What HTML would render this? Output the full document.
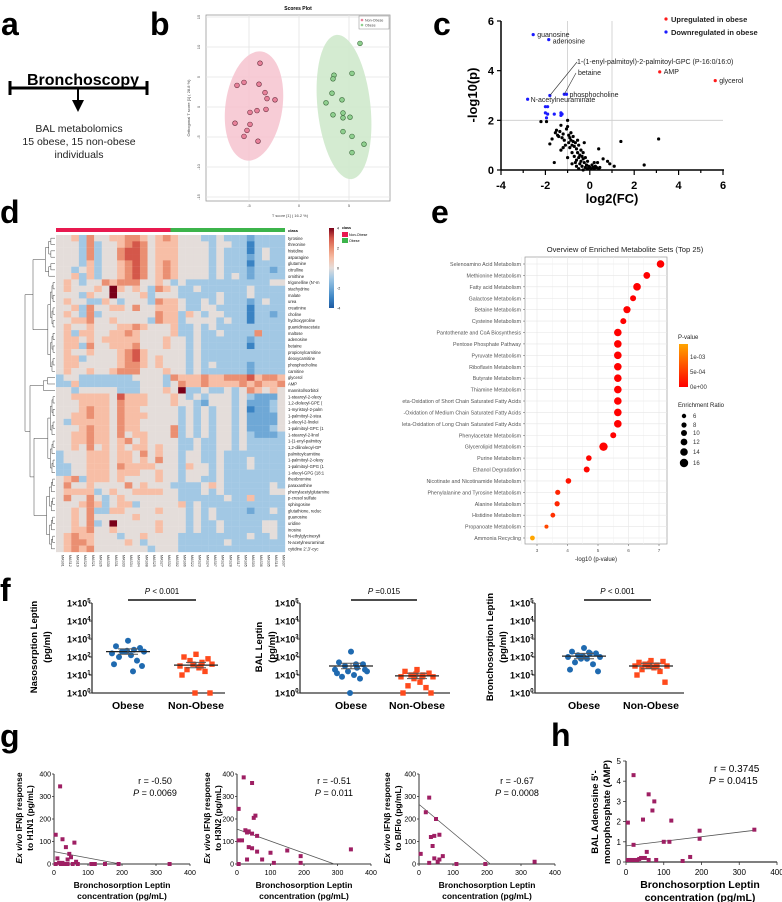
<!DOCTYPE html>
<html><head><meta charset="utf-8"><style>
html,body{margin:0;padding:0;background:#fff}
svg{display:block;font-family:"Liberation Sans",Arial,sans-serif}
</style></head><body>
<svg id="fig" width="782" height="902" viewBox="0 0 782 902" xmlns="http://www.w3.org/2000/svg">
<g font-weight="bold" fill="#000">
<text x="1" y="35" font-size="32">a</text>
<text x="150" y="35" font-size="32">b</text>
<text x="433" y="35" font-size="32">c</text>
<text x="0" y="223" font-size="32">d</text>
<text x="431" y="223" font-size="32">e</text>
<text x="0" y="601" font-size="32">f</text>
<text x="0" y="747" font-size="32">g</text>
<text x="551" y="746" font-size="32">h</text>
</g>
<g>
<text x="83" y="85" font-size="16" font-weight="bold" text-anchor="middle">Bronchoscopy</text>
<line x1="10" y1="88" x2="147" y2="88" stroke="#000" stroke-width="3"/>
<line x1="10" y1="81" x2="10" y2="95" stroke="#000" stroke-width="3"/>
<line x1="147" y1="81" x2="147" y2="95" stroke="#000" stroke-width="3"/>
<line x1="78" y1="88" x2="78" y2="101" stroke="#000" stroke-width="2"/>
<polygon points="72,100 84,100 78,112" fill="#000"/>
<text x="79" y="132" font-size="10.5" text-anchor="middle" fill="#222">BAL metabolomics</text>
<text x="79" y="145" font-size="10.5" text-anchor="middle" fill="#222">15 obese, 15 non-obese</text>
<text x="79" y="158" font-size="10.5" text-anchor="middle" fill="#222">individuals</text>
</g>
<g id="pb"></g>
<g id="pc"></g>
<g id="pd"></g>
<g id="pe"></g>
<g id="pf"></g>
<g id="pg"></g>
<g id="ph"></g>
</svg>
<script>
// ---------- DATA ----------
const bNonObeseX=[-3.9,-6.2,-5.5,-4.0,-3.4,-3.2,-2.4,-4.9,-4.2,-3.3,-6.4,-4.9,-5.2,-5.5,-4.1];
const bNonObeseY=[7.3,3.6,4.1,3.8,2.4,1.4,1.2,-0.9,-0.6,-0.4,-2.7,-2.9,-3.9,-4.9,-5.7];
const bObeseX=[6.1,3.5,3.4,5.3,3.3,4.3,2.7,3.4,4.4,4.4,5.1,4.4,5.3,6.5,5.3];
const bObeseY=[10.6,5.3,4.7,5.6,2.3,1.2,0.7,-1.3,-1.0,-1.8,-1.7,-4.1,-4.9,-6.2,-7.6];
const bTicksY=[15,10,5,0,-5,-10,-15];
const bTicksX=[-5,0,5];
const cBlack=[[-2.2,1.95],[-1.95,1.95],[-1.8,1.05],[-1.7,1.25],[-1.6,0.3],[-1.55,1.5],[-1.5,1.6],[-1.45,1.4],[-1.4,1.35],[-1.35,1.55],[-1.3,1.8],[-1.3,0.8],[-1.25,1.3],[-1.2,0.9],[-1.15,1.2],[-1.1,1.0],[-1.05,1.65],[-1.0,2.0],[-1.0,1.75],[-0.95,1.4],[-0.95,1.1],[-0.9,1.3],[-0.9,0.9],[-0.85,1.5],[-0.85,1.2],[-0.8,1.0],[-0.8,0.7],[-0.75,1.35],[-0.75,1.15],[-0.7,0.95],[-0.7,0.55],[-0.65,1.1],[-0.6,0.85],[-0.6,0.4],[-0.55,0.7],[-0.5,1.0],[-0.5,0.5],[-0.45,0.25],[-0.45,0.6],[-0.4,0.8],[-0.4,0.35],[-0.35,0.55],[-0.35,0.15],[-0.3,0.45],[-0.3,0.7],[-0.25,0.3],[-0.25,1.1],[-0.2,0.5],[-0.2,0.1],[-0.15,0.2],[-0.1,0.05],[-0.05,0.15],[0,0.1],[0.05,0.05],[0.1,0.2],[0.15,0.1],[0.2,0.05],[0.25,0.15],[0.3,0.1],[0.35,0.3],[0.4,0.05],[0.45,0.1],[0.4,0.85],[0.6,0.45],[0.8,0.35],[0.9,0.25],[1.1,0.15],[1.4,1.15],[2.45,0.2],[3.1,1.25],[-0.6,0.15],[-0.5,0.05],[-0.8,0.25],[-1.0,0.5],[-1.2,1.45],[-0.55,1.2],[-0.65,0.3],[-0.3,0.0],[-0.1,0.35],[0.2,0.3]];
const cBlue=[[-2.55,5.45],[-1.85,5.25],[-1.8,3.0],[-1.15,3.05],[-1.05,3.05],[-2.8,2.85],[-2.0,2.55],[-1.9,2.55],[-2.0,2.3],[-1.9,2.25],[-1.6,2.25],[-1.3,2.3],[-1.3,2.2],[-1.25,2.25],[-1.95,2.1]];
const cRed=[[3.15,3.95],[5.65,3.6]];
const cTicksX=[-4,-2,0,2,4,6];
const cTicksY=[0,2,4,6];
const dRows=["tyrosine","threonine","histidine","asparagine","glutamine","citrulline","ornithine","trigonelline (N'-m","stachydrine","malate","urea","creatinine","choline","hydroxyproline","guanidinoacetate","maltose","adenosine","betaine","propionylcarnitine","deoxycarnitine","phosphocholine","carnitine","glycerol","AMP","mannitol/sorbitol","1-stearoyl-2-oleoy","1,2-dioleoyl-GPE (","1-myristoyl-2-palm","1-palmitoyl-2-stea","1-oleoyl-2-linolei","1-palmitoyl-GPC (1","1-stearoyl-2-linol","1-(1-enyl-palmitoy","1,2-dilinoleoyl-GP","palmitoylcarnitine","1-palmitoyl-2-oleoy","1-palmitoyl-GPG (1","1-oleoyl-GPG (18:1","theobromine","paraxanthine","phenylacetylglutamine","p-cresol sulfate","sphingosine","glutathione, reduc","guanosine","uridine","inosine","N-ethylglycinexyli","N-acetylneuraminat","cytidine 2',3'-cyc"];
const dValues=[
"445364455665456544433433323333","444363445676455544443443313333","444363446776455544443433313433","444363446776455544443433323433",
"444353445676456544443433313333","443453445676456544443433323323","445353445676456544443434323333","454344656664454343333333333344",
"454445485454365433433333343333","444354484445344433333433343333","454433543444365543343433323433","445364455464455543344333313333",
"454363444444465535434433313323","445564454444365534444343313333","454454445565444533434333333333","453554455654444533433433336333",
"455454555554445443433333323333","455364455564445443433333313333","454454445675444443433333333333","455344445675454443433333333333",
"455444445665454443434333323333","454454456664445443433333323333","344333333344443655565566675665","335333333334443465565555656556",
"443444443334445483343343465454","445555547555444543434443432224","444555546555444544324443422234","444565546554444434343443412234",
"445565546555444434343443422224","435555546554444434343443422224","444565546554444634343443422234","445565546455444634343443432223",
"445565545645444433433443433333","445464545455454433433443433333","344455545546454434433433333333","344455545545464434433433343333",
"334455546555544435443433343333","334455545554454434443433333333","456355545444454434433433333333","464454444645444333345433333343",
"455553454455554433343433333344","464464345444444433333343353333","444565345534444453433333333333","445463355444454443434333323343",
"445464444454444443434333333333","445463484444454443433433333443","445564454444454443433433333443","456554443445444433333333343343",
"456654444543444433333343333333","456564444444344433333333333333"];
const dSamples=["MAS01","MAS12","MAS19","MAS20","MAS21","MAS26","MAS30","MAS31","MAS33","MAS34","MAS04","MAS08","MAS25","MAS27","MAS32","MAS02","MAS06","MAS22","MAS23","MAS24","MAS07","MAS29","MAS28","MAS17","MAS05","MAS03","MAS36","MAS35","MAS16","MAS37"];
const eSets=["Selenoamino Acid Metabolism","Methionine Metabolism","Fatty acid Metabolism","Galactose Metabolism","Betaine Metabolism","Cysteine Metabolism","Pantothenate and CoA Biosynthesis","Pentose Phosphate Pathway","Pyruvate Metabolism","Riboflavin Metabolism","Butyrate Metabolism","Thiamine Metabolism","eta-Oxidation of Short Chain Saturated Fatty Acids","-Oxidation of Medium Chain Saturated Fatty Acids","leta-Oxidation of Long Chain Saturated Fatty Acids","Phenylacetate Metabolism","Glycerolipid Metabolism","Purine Metabolism","Ethanol Degradation","Nicotinate and Nicotinamide Metabolism","Phenylalanine and Tyrosine Metabolism","Alanine Metabolism","Histidine Metabolism","Propanoate Metabolism","Ammonia Recycling"];
const eLogP=[7.05,6.6,6.28,6.15,5.95,5.83,5.65,5.65,5.65,5.65,5.65,5.65,5.65,5.65,5.65,5.5,5.18,4.7,4.63,4.03,3.68,3.66,3.52,3.31,2.85];
const eRatio=[14,12,14,10,13,10,14,14,14,14,14,14,14,14,14,10,16,9,10,9,8,8,7,5,7];
const eTicksX=[3,4,5,6,7];
const eLegendRatio=[6,8,10,12,14,16];
const fTitles=["Nasosorption Leptin","BAL Leptin","Bronchosorption Leptin"];
const fObese=[[2.9,2.6,2.5,2.3,2.4,2.2,2.3,2.3,2.1,2.0,1.8,1.6,1.5,2.35,1.2],[2.3,1.7,1.6,1.5,1.4,1.3,1.2,1.2,1.0,0.9,0.8,1.1,1.3,0,1.6],[2.5,2.3,2.2,2.1,2.2,2.0,2.0,1.9,1.9,1.7,1.6,1.3,1.2,2.05,2.25]];
const fNonObese=[[2.15,2.0,1.9,1.8,1.7,1.5,1.6,1.6,1.4,1.3,1.2,1.0,0,0,1.5],[1.3,1.2,1.1,1.0,1.0,0.9,0.9,0.8,0.6,0.4,0.3,0,0,1.05,0.9],[1.8,1.7,1.75,1.6,1.55,1.5,1.5,1.5,1.4,1.3,1.2,1.0,0.6,1.65,1.5]];
const fMeanObese=[2.3,1.5,2.05];
const fMeanNon=[1.55,0.95,1.5];
const fPvals=["P < 0.001","P =0.015","P < 0.001"];
const fTicks=[0,1,2,3,4,5];
const gNames=["H1N1","H3N2","B/Flo"];
const gX=[[5,18,10,25,35,45,60,40,50,15,5,20,30,40,55,70,110,120,150,190,340,65,25],[5,20,45,50,55,25,35,30,15,5,45,60,35,45,60,100,150,190,30,75,110,190,5,340],[30,20,50,35,45,60,40,5,70,45,60,55,30,110,195,340]];
const gY=[[130,345,25,110,75,45,95,20,30,5,0,0,0,0,0,0,0,0,0,0,0,10,5],[245,385,360,205,215,150,145,140,105,105,135,125,75,70,55,50,60,35,20,20,5,5,0,65],[295,230,200,120,125,130,80,45,35,25,20,10,5,0,0,10]];
const gIntercept=[55,155,265];
const gSlope=[-0.282,-0.534,-1.262];
const gR=["r = -0.50","r = -0.51","r = -0.67"];
const gP=["0.0069","0.011","0.0008"];
const gTicks=[0,100,200,300,400];
const hX=[20,5,60,75,70,45,120,195,20,100,115,195,340,170,55,150,5,10,15,25,30,35,40,50,60,80];
const hY=[4.3,1.95,3.35,3.0,2.55,2.1,2.05,1.55,0.85,1.0,1.0,1.15,1.6,0.25,0.5,0.05,0.1,0.1,0.1,0.1,0.1,0.15,0.2,0.2,0.1,0.1];
const hIntercept=0.8, hSlope=0.00226;
const hTicksY=[0,1,2,3,4,5];

const NS="http://www.w3.org/2000/svg";
function el(parent,tag,attrs,text){const e=document.createElementNS(NS,tag);for(const k in attrs)e.setAttribute(k,attrs[k]);if(text!==undefined)e.textContent=text;parent.appendChild(e);return e;}
function lin(d0,d1,r0,r1){return v=>r0+(v-d0)*(r1-r0)/(d1-d0);}

(function(){
const g=document.getElementById('pb');
const sx=lin(0,10,299,399), sy=lin(0,10,107,47);
el(g,'rect',{x:206,y:15,width:184,height:186,fill:'#fff',stroke:'#999','stroke-width':0.8});
bTicksY.forEach(v=>{el(g,'line',{x1:206,x2:390,y1:sy(v),y2:sy(v),stroke:'#e4e4e4','stroke-width':0.8});
 const t=el(g,'text',{x:200,y:sy(v),'font-size':4,fill:'#555','text-anchor':'middle',transform:`rotate(-90 200 ${sy(v)})`},String(v));});
bTicksX.forEach(v=>{el(g,'line',{x1:sx(v),x2:sx(v),y1:15,y2:201,stroke:'#e4e4e4','stroke-width':0.8});
 el(g,'text',{x:sx(v),y:207,'font-size':4,fill:'#555','text-anchor':'middle'},String(v));});
el(g,'text',{x:298,y:10,'font-size':5,'font-weight':'bold','text-anchor':'middle'},'Scores Plot');
el(g,'text',{x:290,y:217,'font-size':4,fill:'#444','text-anchor':'middle'},'T score [1] ( 16.2 %)');
el(g,'text',{x:190,y:108,'font-size':4,fill:'#444','text-anchor':'middle',transform:'rotate(-90 190 108)'},'Orthogonal T score [1] ( 28.8 %)');
el(g,'ellipse',{cx:254,cy:106,rx:28.5,ry:55,fill:'#f6c3cf',opacity:0.85,transform:'rotate(8 254 106)'});
el(g,'ellipse',{cx:344,cy:107,rx:26.5,ry:72.5,fill:'#cfe9cc',opacity:0.9,transform:'rotate(-6 344 107)'});
bNonObeseX.forEach((x,i)=>{const c=el(g,'circle',{cx:sx(x),cy:sy(bNonObeseY[i]),r:2.4,fill:'#e8819a',stroke:'#6b3040','stroke-width':0.6});
 });
bObeseX.forEach((x,i)=>{const c=el(g,'circle',{cx:sx(x),cy:sy(bObeseY[i]),r:2.4,fill:'#8fcf8f',stroke:'#3c6b3c','stroke-width':0.6});
 });
el(g,'rect',{x:359,y:16,width:30,height:13,fill:'#fff',stroke:'#888','stroke-width':0.5});
el(g,'circle',{cx:362,cy:20,r:1.3,fill:'#e8819a'});el(g,'text',{x:365,y:21.5,'font-size':3.6,fill:'#444'},'Non-Obese');
el(g,'circle',{cx:362,cy:25,r:1.3,fill:'#8fcf8f'});el(g,'text',{x:365,y:26.5,'font-size':3.6,fill:'#444'},'Obese');
})();

(function(){
const g=document.getElementById('pc');
const sx=lin(-4,6,501,723), sy=lin(0,6,170,21);
el(g,'line',{x1:sx(-1),x2:sx(-1),y1:sy(6),y2:sy(0),stroke:'#ccc','stroke-width':0.8});
el(g,'line',{x1:sx(1),x2:sx(1),y1:sy(6),y2:sy(0),stroke:'#ccc','stroke-width':0.8});
el(g,'line',{x1:sx(-4),x2:sx(6),y1:sy(2),y2:sy(2),stroke:'#ccc','stroke-width':0.8});
el(g,'line',{x1:501,x2:501,y1:21,y2:170,stroke:'#000','stroke-width':1.5});
el(g,'line',{x1:501,x2:724,y1:170,y2:170,stroke:'#000','stroke-width':1.5});
cTicksY.forEach(v=>{el(g,'line',{x1:497,x2:501,y1:sy(v),y2:sy(v),stroke:'#000','stroke-width':1.2});
 const t=el(g,'text',{x:494,y:sy(v)+4,'font-size':11,'font-weight':'bold','text-anchor':'end'},String(v));});
for(let v=-4;v<=6;v++){el(g,'line',{x1:sx(v),x2:sx(v),y1:170,y2:v%2===0?175:173,stroke:'#000','stroke-width':1.2});}
cTicksX.forEach(v=>{el(g,'text',{x:sx(v),y:189,'font-size':11,'font-weight':'bold','text-anchor':'middle'},String(v));});
el(g,'text',{x:612,y:203,'font-size':13,'font-weight':'bold','text-anchor':'middle'},'log2(FC)');
el(g,'text',{x:477,y:95,'font-size':13,'font-weight':'bold','text-anchor':'middle',transform:'rotate(-90 477 95)'},'-log10(p)');
cBlack.forEach(p=>{const c=el(g,'circle',{cx:sx(p[0]),cy:sy(p[1]),r:1.6,fill:'#000'});});
cBlue.forEach(p=>{const c=el(g,'circle',{cx:sx(p[0]),cy:sy(p[1]),r:1.6,fill:'#1a1aff'});});
cRed.forEach(p=>{const c=el(g,'circle',{cx:sx(p[0]),cy:sy(p[1]),r:1.6,fill:'#ff1a1a'});});
const lab=(x,y,t)=>el(g,'text',{x:x,y:y,'font-size':7,fill:'#222'},t);
lab(sx(-2.55)+4,sy(5.45)+2.5,'guanosine');lab(sx(-1.85)+4,sy(5.25)+4,'adenosine');
lab(577,64,'1-(1-enyl-palmitoyl)-2-palmitoyl-GPC (P-16:0/16:0)');lab(578,75,'betaine');
lab(sx(-1.05)+3,sy(3.05)+2.5,'phosphocholine');lab(sx(-2.8)+3,sy(2.85)+3,'N-acetylneuraminate');
lab(sx(3.15)+4,sy(3.95)+2,'AMP');lab(sx(5.65)+4,sy(3.6)+2.5,'glycerol');
el(g,'line',{x1:sx(-1.8),y1:sy(3.0),x2:577,y2:62,stroke:'#333','stroke-width':0.6});
el(g,'line',{x1:sx(-1.15),y1:sy(3.05),x2:576,y2:73,stroke:'#333','stroke-width':0.6});
el(g,'circle',{cx:666,cy:19,r:1.6,fill:'#ff1a1a'});el(g,'text',{x:671,y:22,'font-size':7.5,'font-weight':'bold',fill:'#222'},'Upregulated in obese');
el(g,'circle',{cx:666,cy:32,r:1.6,fill:'#1a1aff'});el(g,'text',{x:671,y:35,'font-size':7.5,'font-weight':'bold',fill:'#222'},'Downregulated in obese');
})();

(function(){
const g=document.getElementById('pd');
const pal=["#1e5aa0","#3a83c3","#6fa8d6","#a2c8e4","#e4ddda","#f7bea6","#ea8f72","#d4574a","#7a0018"];
const x0=56,cw=229/30,y0=235,rh=317/50;
el(g,'rect',{x:x0,y:228,width:cw*15,height:4,fill:'#e8194f'});
el(g,'rect',{x:x0+cw*15,y:228,width:cw*15,height:4,fill:'#3cb44b'});
el(g,'text',{x:288,y:232,'font-size':4,'font-weight':'bold'},'class');
dValues.forEach((row,r)=>{for(let c=0;c<30;c++){const v=+row[c];
 const cell=el(g,'rect',{x:x0+c*cw,y:y0+r*rh,width:cw+0.15,height:rh+0.15,fill:pal[v]});
 }
 el(g,'text',{x:288,y:y0+r*rh+rh*0.75,'font-size':4.2,fill:'#222'},dRows[r]);});
dSamples.forEach((s,c)=>{const cx=x0+c*cw+cw/2+1.5;el(g,'text',{x:cx,y:555,'font-size':3.6,fill:'#333',transform:`rotate(90 ${cx} 555)`},s);});
const clusters=[[0,6,40],[7,21,44],[22,24,37],[25,37,44],[38,49,42]];
function tree(a,b,xr){ if(a===b)return {y:y0+a*rh+rh/2,x:55};
 const m=Math.floor((a+b)/2);const L=tree(a,m,xr+(55-xr)*0.35),R=tree(m+1,b,xr+(55-xr)*0.35);
 const x=xr+(55-xr)*0.35;
 el(g,'path',{d:`M${L.x},${L.y}H${x}V${R.y}H${R.x}`,fill:'none',stroke:'#444','stroke-width':0.5});
 return {x:x,y:(L.y+R.y)/2};}
const tops=clusters.map(c=>tree(c[0],c[1],c[2]));
function join(A,B,x){el(g,'path',{d:`M${A.x},${A.y}H${x}V${B.y}H${B.x}`,fill:'none',stroke:'#444','stroke-width':0.5});return {x:x,y:(A.y+B.y)/2};}
const t01=join(tops[0],tops[1],33);const t34=join(tops[3],tops[4],34);const t234=join(tops[2],t34,30);join(t01,t234,25);
const grad=el(g,'defs',{});const lg=el(grad,'linearGradient',{id:'hmgrad',x1:0,y1:0,x2:0,y2:1});
pal.slice().reverse().forEach((c,i)=>el(lg,'stop',{offset:(i/8),'stop-color':c}));
el(g,'rect',{x:329,y:228,width:5,height:80,fill:'url(#hmgrad)'});
["4","2","0","-2","-4"].forEach((t,i)=>el(g,'text',{x:337,y:229.5+i*20,'font-size':3.6},t));
el(g,'text',{x:342,y:229,'font-size':3.6,'font-weight':'bold'},'class');
el(g,'rect',{x:342,y:232,width:6,height:5,fill:'#e8194f'});el(g,'text',{x:349,y:236,'font-size':3.6},'Non-Obese');
el(g,'rect',{x:342,y:238,width:6,height:5,fill:'#3cb44b'});el(g,'text',{x:349,y:242,'font-size':3.6},'Obese');
})();

(function(){
const g=document.getElementById('pe');
const sx=lin(3,7,537,659);const y0=264,dy=(538-264)/24;
el(g,'text',{x:625,y:252,'font-size':7.6,fill:'#222','text-anchor':'middle'},'Overview of Enriched Metabolite Sets (Top 25)');
el(g,'rect',{x:525,y:257,width:142,height:287,fill:'#fff',stroke:'#999','stroke-width':0.7});
[2.5,3.5,4.5,5.5,6.5].forEach(v=>el(g,'line',{x1:sx(v),x2:sx(v),y1:257,y2:544,stroke:'#f2f2f2','stroke-width':0.5}));
eTicksX.forEach(v=>{el(g,'line',{x1:sx(v),x2:sx(v),y1:257,y2:544,stroke:'#e6e6e6','stroke-width':0.6});
 el(g,'line',{x1:sx(v),x2:sx(v),y1:544,y2:546,stroke:'#555','stroke-width':0.5});
 el(g,'text',{x:sx(v),y:552,'font-size':4.6,fill:'#555','text-anchor':'middle'},String(v));});
el(g,'text',{x:596,y:561,'font-size':6,fill:'#222','text-anchor':'middle'},'-log10 (p-value)');
const rad=er=>1.0+0.2*er;
const col=lp=>{const p=Math.pow(10,-lp);const t=Math.min(1,p/1.4e-3);const gch=Math.round(165*Math.pow(t,0.8));return `rgb(255,${gch},0)`;};
eSets.forEach((n,i)=>{const y=y0+i*dy;
 el(g,'line',{x1:525,x2:667,y1:y,y2:y,stroke:'#e6e6e6','stroke-width':0.6});
 el(g,'line',{x1:523,x2:525,y1:y,y2:y,stroke:'#555','stroke-width':0.5});
 el(g,'text',{x:521,y:y+2,'font-size':5.3,fill:'#555','text-anchor':'end'},n);
 const c=el(g,'circle',{cx:sx(eLogP[i]),cy:y,r:rad(eRatio[i]),fill:col(eLogP[i])});
 });
el(g,'text',{x:678,y:339,'font-size':6,fill:'#222'},'P-value');
const d=el(g,'defs',{});const lg=el(d,'linearGradient',{id:'pgrad',x1:0,y1:0,x2:0,y2:1});
el(lg,'stop',{offset:0,'stop-color':'#ffa500'});el(lg,'stop',{offset:1,'stop-color':'#ff0000'});
el(g,'rect',{x:679,y:344,width:9,height:43,fill:'url(#pgrad)'});
[["1e-03",359],["5e-04",374],["0e+00",389]].forEach(a=>el(g,'text',{x:690,y:a[1],'font-size':6,fill:'#333'},a[0]));
el(g,'text',{x:678,y:407,'font-size':6,fill:'#222'},'Enrichment Ratio');
const ly=[416,425,433,442,452,463];
eLegendRatio.forEach((v,i)=>{el(g,'circle',{cx:684,cy:ly[i],r:rad(v),fill:'#000'});el(g,'text',{x:693,y:ly[i]+2,'font-size':6,fill:'#333'},String(v));});
})();

(function(){
const g=document.getElementById('pf');
const axX=[92,300,535],obX=[128,351,584],nonX=[196,417,651],rightX=[225,450,684],titX=[37,262,493];
const sy=lin(0,5,693,603);
const jit=[0,-12,12,-6,6,-16,16,-3,3,-9,9,-14,14,-1,5];
for(let p=0;p<3;p++){
 const ax=axX[p];
 el(g,'line',{x1:ax,x2:ax,y1:603,y2:693,stroke:'#333','stroke-width':1.3});
 el(g,'line',{x1:ax,x2:rightX[p],y1:693,y2:693,stroke:'#333','stroke-width':1.3});
 fTicks.forEach(v=>{el(g,'line',{x1:ax-3,x2:ax,y1:sy(v),y2:sy(v),stroke:'#333','stroke-width':1});
  const t=el(g,'text',{x:ax-25,y:sy(v)+3.5,'font-size':9,'font-weight':'bold'});
  
  el(t,'tspan',{},'1×10');el(t,'tspan',{dy:-4,'font-size':6},String(v));});
 el(g,'text',{x:obX[p],y:709,'font-size':10.5,'font-weight':'bold','text-anchor':'middle'},'Obese');
 el(g,'text',{x:nonX[p],y:709,'font-size':10.5,'font-weight':'bold','text-anchor':'middle'},'Non-Obese');
 el(g,'text',{x:titX[p],y:647,'font-size':9.5,'font-weight':'bold','text-anchor':'middle',transform:`rotate(-90 ${titX[p]} 647)`},fTitles[p]);
 el(g,'text',{x:titX[p]+13,y:647,'font-size':9.5,'font-weight':'bold','text-anchor':'middle',transform:`rotate(-90 ${titX[p]+13} 647)`},'(pg/ml)');
 el(g,'line',{x1:obX[p],x2:nonX[p],y1:600,y2:600,stroke:'#111','stroke-width':1.6});
 const pt=el(g,'text',{x:(obX[p]+nonX[p])/2,y:594,'font-size':8,'text-anchor':'middle'});
 el(pt,'tspan',{'font-style':'italic'},'P');el(pt,'tspan',{},fPvals[p].slice(1));
 fObese[p].forEach((v,i)=>{const c=el(g,'circle',{cx:obX[p]+jit[i],cy:sy(v),r:3,fill:'#1f6ab0'});});
 fNonObese[p].forEach((v,i)=>{const c=el(g,'rect',{x:nonX[p]+jit[i]-2.7,y:sy(v)-2.7,width:5.4,height:5.4,fill:'#ff4a1c'});});
 [[obX[p],fMeanObese[p]],[nonX[p],fMeanNon[p]]].forEach(a=>{
  el(g,'line',{x1:a[0]-22,x2:a[0]+22,y1:sy(a[1]),y2:sy(a[1]),stroke:'#222','stroke-width':1.3});
  el(g,'line',{x1:a[0],x2:a[0],y1:sy(a[1]+0.15),y2:sy(a[1]-0.15),stroke:'#555','stroke-width':1});
  el(g,'line',{x1:a[0]-10,x2:a[0]+10,y1:sy(a[1]+0.15),y2:sy(a[1]+0.15),stroke:'#555','stroke-width':1});
  el(g,'line',{x1:a[0]-10,x2:a[0]+10,y1:sy(a[1]-0.15),y2:sy(a[1]-0.15),stroke:'#555','stroke-width':1});});
}
})();

(function(){
const g=document.getElementById('pg');
const x0s=[54,237,419],x1s=[190,371,555],tx=[22,210,390],rx=[155,334,517];
const sy=lin(0,400,864,774);
for(let p=0;p<3;p++){
 const sx=lin(0,400,x0s[p],x1s[p]);
 el(g,'line',{x1:x0s[p],x2:x0s[p],y1:774,y2:864,stroke:'#333','stroke-width':1});
 el(g,'line',{x1:x0s[p],x2:x1s[p],y1:864,y2:864,stroke:'#333','stroke-width':1});
 gTicks.forEach(v=>{el(g,'line',{x1:x0s[p]-2,x2:x0s[p],y1:sy(v),y2:sy(v),stroke:'#333','stroke-width':0.8});
  el(g,'text',{x:x0s[p]-3,y:sy(v)+2.5,'font-size':7,'text-anchor':'end'},String(v));
  el(g,'line',{x1:sx(v),x2:sx(v),y1:864,y2:866,stroke:'#333','stroke-width':0.8});
  el(g,'text',{x:sx(v),y:875,'font-size':7,'text-anchor':'middle'},String(v));});
 const cx=(x0s[p]+x1s[p])/2;
 el(g,'text',{x:cx,y:888,'font-size':8.5,'font-weight':'bold','text-anchor':'middle'},'Bronchosorption Leptin');
 el(g,'text',{x:cx,y:899,'font-size':8.5,'font-weight':'bold','text-anchor':'middle'},'concentration (pg/mL)');
 const t1=el(g,'text',{x:tx[p],y:818,'font-size':8.5,'font-weight':'bold','text-anchor':'middle',transform:`rotate(-90 ${tx[p]} 818)`});
 el(t1,'tspan',{'font-style':'italic'},'Ex vivo');el(t1,'tspan',{},' IFNβ response');
 el(g,'text',{x:tx[p]+11,y:818,'font-size':8.5,'font-weight':'bold','text-anchor':'middle',transform:`rotate(-90 ${tx[p]+11} 818)`},'to '+gNames[p]+' (pg/mL)');
 el(g,'text',{x:rx[p],y:784,'font-size':9,'text-anchor':'middle'},gR[p]);
 const pt=el(g,'text',{x:rx[p],y:796,'font-size':9,'text-anchor':'middle'});el(pt,'tspan',{'font-style':'italic'},'P');el(pt,'tspan',{},' = '+gP[p]);
 const xe=-gIntercept[p]/gSlope[p];
 el(g,'line',{x1:sx(0),y1:sy(gIntercept[p]),x2:sx(xe),y2:sy(0),stroke:'#555','stroke-width':0.8});
 gX[p].forEach((x,i)=>{const r=el(g,'rect',{x:sx(x)-2,y:sy(gY[p][i])-2,width:4,height:4,fill:'#9e1f63'});});
}
})();

(function(){
const g=document.getElementById('ph');
const sx=lin(0,400,626,777), sy=lin(0,5,862,761);
el(g,'line',{x1:626,x2:626,y1:761,y2:862,stroke:'#333','stroke-width':1.2});
el(g,'line',{x1:626,x2:777,y1:862,y2:862,stroke:'#333','stroke-width':1.2});
hTicksY.forEach(v=>{el(g,'line',{x1:623,x2:626,y1:sy(v),y2:sy(v),stroke:'#333','stroke-width':0.8});
 el(g,'text',{x:621,y:sy(v)+3,'font-size':8,'text-anchor':'end'},String(v));});
[0,100,200,300,400].forEach(v=>{el(g,'line',{x1:sx(v),x2:sx(v),y1:862,y2:865,stroke:'#333','stroke-width':0.8});
 el(g,'text',{x:sx(v),y:875,'font-size':8,'text-anchor':'middle'},String(v));});
el(g,'text',{x:700,y:888,'font-size':10.5,'font-weight':'bold','text-anchor':'middle'},'Bronchosorption Leptin');
el(g,'text',{x:700,y:901,'font-size':10.5,'font-weight':'bold','text-anchor':'middle'},'concentration (pg/mL)');
el(g,'text',{x:598,y:812,'font-size':9.5,'font-weight':'bold','text-anchor':'middle',transform:'rotate(-90 598 812)'},"BAL Adenosine 5'-");
el(g,'text',{x:610,y:812,'font-size':9.5,'font-weight':'bold','text-anchor':'middle',transform:'rotate(-90 610 812)'},'monophosphate (AMP)');
el(g,'text',{x:714,y:772,'font-size':10},'r =  0.3745');
const pt=el(g,'text',{x:709,y:784,'font-size':10});el(pt,'tspan',{'font-style':'italic'},'P');el(pt,'tspan',{},' =  0.0415');
el(g,'line',{x1:sx(0),y1:sy(hIntercept),x2:sx(340),y2:sy(hIntercept+hSlope*340),stroke:'#555','stroke-width':0.8});
hX.forEach((x,i)=>{const r=el(g,'rect',{x:sx(x)-2,y:sy(hY[i])-2,width:4,height:4,fill:'#9e1f63'});});
})();
</script>
</body></html>
